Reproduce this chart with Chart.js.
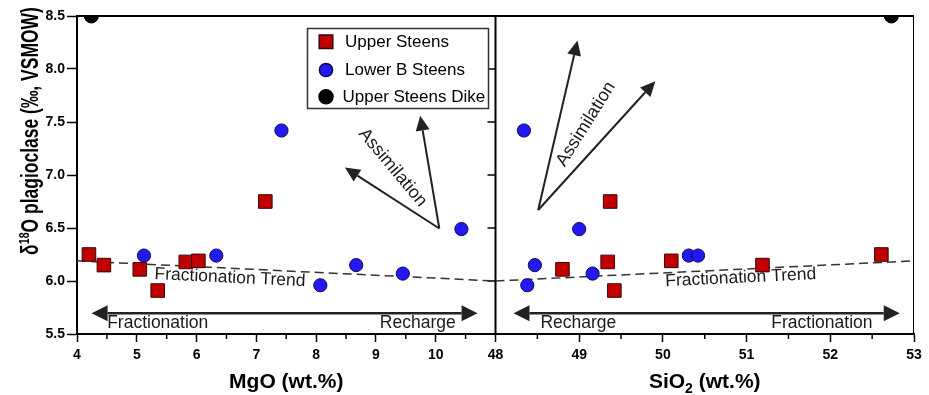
<!DOCTYPE html>
<html>
<head>
<meta charset="utf-8">
<script src="https://cdn.jsdelivr.net/npm/chart.js@4"></script>
<style>
  html, body { margin: 0; padding: 0; background: #fff; }
  #wrap { position: relative; width: 929px; height: 395px; }
</style>
</head>
<body>
<div id="wrap"><canvas id="c" width="929" height="395"></canvas></div>
<script>
// ---- data ----
// Upper Steens (same samples in both panels)
const upperD18O = [6.25, 6.15, 6.11, 5.91, 6.18, 6.19, 6.75];
const upperMgO  = [4.20, 4.45, 5.05, 5.35, 5.82, 6.03, 7.15];
const upperSiO2 = [52.61, 51.19, 48.80, 49.42, 49.34, 50.10, 49.37];

// Lower B Steens
const lowerD18O = [6.24, 6.24, 7.42, 5.96, 6.15, 6.07, 6.49];
const lowerMgO  = [5.12, 6.33, 7.42, 8.07, 8.67, 9.45, 10.43];
const lowerSiO2 = [50.31, 50.42, 48.34, 48.38, 48.47, 49.16, 49.00];

// Upper Steens Dike (plotted at the top edge)
const dikeD18O = [8.5];
const dikeMgO  = [4.24];
const dikeSiO2 = [52.73];

// fractionation trend lines
const trendMgO   = [4, 11];
const trendMgOY  = [6.19, 6.00];
const trendSiO2  = [48, 53];
const trendSiO2Y = [6.00, 6.19];

// annotation arrows, in data units [x0, y0, x1, y1]
const mgoAssimArrows  = [[10.06, 6.495, 8.48, 7.07], [10.06, 6.495, 9.74, 7.56]];
const sio2AssimArrows = [[48.51, 6.67, 48.98, 8.27], [48.51, 6.67, 49.91, 7.885]];
const mgoRangeArrow  = [4.245, 10.70, 5.695];
const sio2RangeArrow = [48.215, 52.83, 5.695];

// text labels [text, x, y]
const mgoLabels  = [["Fractionation", 5.35, 5.605], ["Recharge", 9.70, 5.605]];
const sio2Labels = [["Recharge", 48.99, 5.605], ["Fractionation", 51.90, 5.605]];
const mgoTrendLabel  = ["Fractionation Trend", 6.56, 6.03];
const sio2TrendLabel = ["Fractionation Trend", 50.93, 6.03];
const mgoAssimLabel  = ["Assimilation", 9.28, 7.07, 50];
const sio2AssimLabel = ["Assimilation", 49.08, 7.48, -58];

const yTicks = [5.5, 6.0, 6.5, 7.0, 7.5, 8.0, 8.5];

const FONT = "'Liberation Sans', Arial, Helvetica, sans-serif";
const RED = '#c00000', RED_EDGE = '#3a0606';
const BLUE = '#2418f4', BLUE_EDGE = '#0c0c55';
const INK = '#1a1a1a';

function pairs(xs, ys) {
  return xs.map((x, i) => ({ x: x, y: ys[i] }));
}

const legendItems = [
  { text: 'Upper Steens', style: 'rect', r: 9.6, fill: RED, edge: RED_EDGE, tx: 345 },
  { text: 'Lower B Steens', style: 'circle', r: 6.6, fill: BLUE, edge: BLUE_EDGE, tx: 345 },
  { text: 'Upper Steens Dike', style: 'circle', r: 7, fill: '#000', edge: '#000', tx: 342.5 }
];

// ---- helpers ----
function arrowHead(ctx, x0, y0, x1, y1, len, half) {
  const a = Math.atan2(y1 - y0, x1 - x0);
  const bx = x1 - len * Math.cos(a), by = y1 - len * Math.sin(a);
  ctx.beginPath();
  ctx.moveTo(x1, y1);
  ctx.lineTo(bx + half * Math.sin(a), by - half * Math.cos(a));
  ctx.lineTo(bx - half * Math.sin(a), by + half * Math.cos(a));
  ctx.closePath();
  ctx.fill();
  return [bx, by];
}

function arrow(ctx, x0, y0, x1, y1) {
  const b = arrowHead(ctx, x0, y0, x1, y1, 15, 7);
  ctx.beginPath();
  ctx.moveTo(x0, y0);
  ctx.lineTo(b[0], b[1]);
  ctx.stroke();
}

function doubleArrow(ctx, x0, x1, y) {
  const b1 = arrowHead(ctx, x1, y, x0, y, 16, 8);
  const b2 = arrowHead(ctx, x0, y, x1, y, 16, 8);
  ctx.beginPath();
  ctx.moveTo(b1[0], y);
  ctx.lineTo(b2[0], y);
  ctx.stroke();
}

function rotText(ctx, s, x, y, rad) {
  ctx.save();
  ctx.translate(x, y);
  ctx.rotate(rad);
  ctx.fillText(s, 0, 0);
  ctx.restore();
}

// frame, arrows, annotations, legend, titles
const decor = {
  id: 'decor',
  beforeDatasetsDraw(chart) {
    const { ctx, chartArea: a, scales } = chart;
    const x1 = scales.x1, x2 = scales.x2, y = scales.y;
    ctx.save();
    ctx.strokeStyle = '#000';
    ctx.lineCap = 'butt';

    // top & right border
    ctx.lineWidth = 2;
    ctx.beginPath();
    ctx.moveTo(a.left, a.top);
    ctx.lineTo(a.right, a.top);
    ctx.stroke();
    ctx.lineWidth = 1;
    ctx.beginPath();
    ctx.moveTo(a.right - 0.5, a.top);
    ctx.lineTo(a.right - 0.5, a.bottom);
    ctx.stroke();

    // middle divider with ticks facing left
    const mid = x2.left;
    ctx.lineWidth = 2;
    ctx.beginPath();
    ctx.moveTo(mid, a.top);
    ctx.lineTo(mid, a.bottom);
    ctx.stroke();
    ctx.lineWidth = 1.5;
    yTicks.forEach(v => {
      const py = y.getPixelForValue(v);
      ctx.beginPath();
      ctx.moveTo(mid - 8, py);
      ctx.lineTo(mid, py);
      ctx.stroke();
    });

    // minor x ticks
    const minor = (sc, from, to) => {
      for (let v = from; v < to; v += 1) {
        const px = sc.getPixelForValue(v);
        ctx.beginPath();
        ctx.moveTo(px, a.bottom);
        ctx.lineTo(px, a.bottom + 5);
        ctx.stroke();
      }
    };
    minor(x1, 4.5, 11);
    minor(x2, 48.5, 53);

    // arrows
    ctx.strokeStyle = '#222';
    ctx.fillStyle = '#222';
    ctx.lineWidth = 2;
    mgoAssimArrows.forEach(r => arrow(ctx, x1.getPixelForValue(r[0]), y.getPixelForValue(r[1]),
                                           x1.getPixelForValue(r[2]), y.getPixelForValue(r[3])));
    sio2AssimArrows.forEach(r => arrow(ctx, x2.getPixelForValue(r[0]), y.getPixelForValue(r[1]),
                                            x2.getPixelForValue(r[2]), y.getPixelForValue(r[3])));
    ctx.lineWidth = 2.5;
    doubleArrow(ctx, x1.getPixelForValue(mgoRangeArrow[0]), x1.getPixelForValue(mgoRangeArrow[1]),
                y.getPixelForValue(mgoRangeArrow[2]));
    doubleArrow(ctx, x2.getPixelForValue(sio2RangeArrow[0]), x2.getPixelForValue(sio2RangeArrow[1]),
                y.getPixelForValue(sio2RangeArrow[2]));

    // labels
    ctx.fillStyle = INK;
    ctx.textAlign = 'center';
    ctx.textBaseline = 'middle';
    ctx.font = '17.5px ' + FONT;
    mgoLabels.forEach(l => ctx.fillText(l[0], x1.getPixelForValue(l[1]), y.getPixelForValue(l[2])));
    sio2Labels.forEach(l => ctx.fillText(l[0], x2.getPixelForValue(l[1]), y.getPixelForValue(l[2])));

    // trend labels follow the slope of their line
    const slope = (sc, xs, ys) => Math.atan2(
      y.getPixelForValue(ys[1]) - y.getPixelForValue(ys[0]),
      sc.getPixelForValue(xs[1]) - sc.getPixelForValue(xs[0]));
    rotText(ctx, mgoTrendLabel[0], x1.getPixelForValue(mgoTrendLabel[1]), y.getPixelForValue(mgoTrendLabel[2]),
            slope(x1, trendMgO, trendMgOY));
    rotText(ctx, sio2TrendLabel[0], x2.getPixelForValue(sio2TrendLabel[1]), y.getPixelForValue(sio2TrendLabel[2]),
            slope(x2, trendSiO2, trendSiO2Y));

    ctx.font = '18px ' + FONT;
    rotText(ctx, mgoAssimLabel[0], x1.getPixelForValue(mgoAssimLabel[1]), y.getPixelForValue(mgoAssimLabel[2]),
            mgoAssimLabel[3] * Math.PI / 180);
    rotText(ctx, sio2AssimLabel[0], x2.getPixelForValue(sio2AssimLabel[1]), y.getPixelForValue(sio2AssimLabel[2]),
            sio2AssimLabel[3] * Math.PI / 180);
    ctx.restore();
  },
  afterDraw(chart) {
    const { ctx, chartArea: a, scales } = chart;
    ctx.save();

    // legend box
    ctx.fillStyle = '#fff';
    ctx.strokeStyle = '#333';
    ctx.lineWidth = 1.5;
    ctx.fillRect(307.5, 28.5, 181, 80);
    ctx.strokeRect(307.5, 28.5, 181, 80);
    const rows = [41.7, 70, 96.7];
    ctx.font = '17px ' + FONT;
    ctx.textAlign = 'left';
    ctx.textBaseline = 'middle';
    legendItems.forEach((it, i) => {
      ctx.fillStyle = it.fill;
      ctx.strokeStyle = it.edge;
      Chart.helpers.drawPoint(ctx, { pointStyle: it.style, radius: it.r, rotation: 0, borderWidth: 1 }, 326, rows[i]);
      ctx.fillStyle = '#000';
      ctx.fillText(it.text, it.tx, rows[i] + 0.5);
    });

    // x titles
    ctx.fillStyle = '#000';
    ctx.textBaseline = 'alphabetic';
    ctx.textAlign = 'left';
    const base = 388;
    ctx.font = 'bold 21px ' + FONT;
    const cx1 = (scales.x1.left + scales.x1.right) / 2;
    const t1 = 'MgO (wt.%)';
    ctx.fillText(t1, cx1 - ctx.measureText(t1).width / 2, base);

    const cx2 = (scales.x2.left + scales.x2.right) / 2;
    const bigF = 'bold 21px ' + FONT, subF = 'bold 14px ' + FONT;
    ctx.font = bigF; const wA = ctx.measureText('SiO').width, wC = ctx.measureText(' (wt.%)').width;
    ctx.font = subF; const wB = ctx.measureText('2').width;
    let sx = cx2 - (wA + wB + wC) / 2;
    ctx.font = bigF; ctx.fillText('SiO', sx, base); sx += wA;
    ctx.font = subF; ctx.fillText('2', sx, base + 5); sx += wB;
    ctx.font = bigF; ctx.fillText(' (wt.%)', sx, base);

    // y title, rotated and condensed like the original
    ctx.translate(38, 131);
    ctx.rotate(-Math.PI / 2);
    ctx.scale(0.76, 1);
    const yF = 'bold 23px ' + FONT, supF = 'bold 14px ' + FONT;
    ctx.font = yF; const w1 = ctx.measureText('\u03b4').width, w3 = ctx.measureText('O plagioclase (\u2030, VSMOW)').width;
    ctx.font = supF; const w2 = ctx.measureText('18').width;
    let tx = -(w1 + w2 + w3) / 2;
    ctx.font = yF; ctx.fillText('\u03b4', tx, 0); tx += w1;
    ctx.font = supF; ctx.fillText('18', tx, -9); tx += w2;
    ctx.font = yF; ctx.fillText('O plagioclase (\u2030, VSMOW)', tx, 0);
    ctx.restore();
  }
};

const tickFont = { family: FONT, size: 14, weight: 'bold' };

function xScale(min, max, hideLast) {
  return {
    type: 'linear', axis: 'x', position: 'bottom',
    stack: 'bottom', stackWeight: 1,
    min: min, max: max,
    afterFit: s => { s.height = 61; },
    border: { display: true, color: '#000', width: 2 },
    grid: { display: true, drawOnChartArea: false, drawTicks: true, tickLength: 8, tickWidth: 1.5,
            tickColor: c => (hideLast && c.tick && c.tick.value === max) ? 'rgba(0,0,0,0)' : '#000' },
    ticks: {
      stepSize: 1, padding: 5, color: '#000', font: tickFont, maxRotation: 0,
      callback: v => (hideLast && v === max) ? '' : String(v)
    }
  };
}

new Chart(document.getElementById('c'), {
  type: 'scatter',
  data: {
    datasets: [
      { label: 'Upper Steens Dike', xAxisID: 'x1', data: pairs(dikeMgO, dikeD18O),
        pointStyle: 'circle', pointRadius: 7, backgroundColor: '#000', borderColor: '#000', borderWidth: 1 },
      { label: 'Upper Steens Dike', xAxisID: 'x2', data: pairs(dikeSiO2, dikeD18O),
        pointStyle: 'circle', pointRadius: 7, backgroundColor: '#000', borderColor: '#000', borderWidth: 1 },
      { label: 'Upper Steens', xAxisID: 'x1', data: pairs(upperMgO, upperD18O),
        pointStyle: 'rect', pointRadius: 9.6, backgroundColor: RED, borderColor: RED_EDGE, borderWidth: 1 },
      { label: 'Upper Steens', xAxisID: 'x2', data: pairs(upperSiO2, upperD18O),
        pointStyle: 'rect', pointRadius: 9.6, backgroundColor: RED, borderColor: RED_EDGE, borderWidth: 1 },
      { label: 'Lower B Steens', xAxisID: 'x1', data: pairs(lowerMgO, lowerD18O),
        pointStyle: 'circle', pointRadius: 6.6, backgroundColor: BLUE, borderColor: BLUE_EDGE, borderWidth: 1 },
      { label: 'Lower B Steens', xAxisID: 'x2', data: pairs(lowerSiO2, lowerD18O),
        pointStyle: 'circle', pointRadius: 6.6, backgroundColor: BLUE, borderColor: BLUE_EDGE, borderWidth: 1 },
      { label: 'Fractionation Trend', xAxisID: 'x1', data: pairs(trendMgO, trendMgOY), showLine: true,
        pointRadius: 0, borderColor: '#333', borderWidth: 1.5, borderDash: [9, 5] },
      { label: 'Fractionation Trend', xAxisID: 'x2', data: pairs(trendSiO2, trendSiO2Y), showLine: true,
        pointRadius: 0, borderColor: '#333', borderWidth: 1.5, borderDash: [9, 5] }
    ]
  },
  options: {
    responsive: false,
    animation: false,
    layout: { padding: { left: 0, right: 15, top: 16, bottom: 0 } },
    plugins: { legend: { display: false }, tooltip: { enabled: false } },
    elements: { point: { hoverRadius: 0 } },
    scales: {
      x1: xScale(4, 11, true),
      x2: xScale(48, 53, false),
      y: {
        type: 'linear', axis: 'y', position: 'left',
        min: 5.5, max: 8.5,
        afterFit: s => { s.width = 77; },
        border: { display: true, color: '#000', width: 2 },
        grid: { display: true, drawOnChartArea: false, tickLength: 10, tickWidth: 1.5, tickColor: '#000' },
        ticks: { stepSize: 0.5, padding: 2, color: '#000', font: tickFont, callback: v => v.toFixed(1) }
      }
    }
  },
  plugins: [decor]
});
</script>
</body>
</html>
